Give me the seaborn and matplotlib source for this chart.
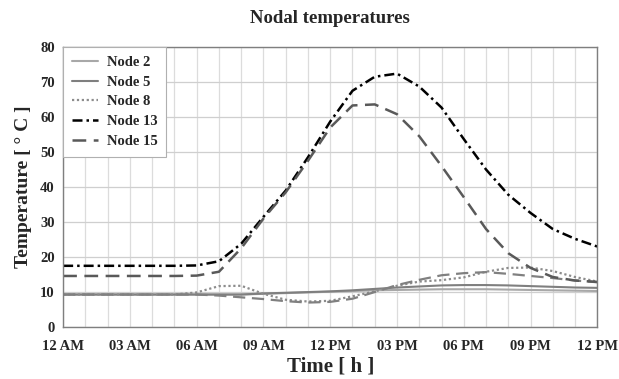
import numpy as np
import pandas as pd
import seaborn as sns
import matplotlib.pyplot as plt
from matplotlib.ticker import MultipleLocator

# hours of the day (0 = 12 AM, 24 = 12 AM next day)
hours = list(range(25))
tick_hours = [0, 3, 6, 9, 12, 15, 18, 21, 24]
tick_labels = ["12 AM", "03 AM", "06 AM", "09 AM", "12 PM", "03 PM", "06 PM", "09 PM", "12 PM"]

# temperatures [°C]
node_2 = [9.3, 9.3, 9.3, 9.3, 9.3, 9.3, 9.3, 9.3, 9.3, 9.5, 9.7, 9.9, 10.1,
          10.3, 10.5, 10.6, 10.7, 10.8, 10.8, 10.8, 10.7, 10.6, 10.5, 10.4, 10.3]
node_5 = [9.3, 9.3, 9.3, 9.3, 9.3, 9.3, 9.3, 9.3, 9.3, 9.6, 9.8, 10.0, 10.2,
          10.5, 10.9, 11.3, 11.6, 11.9, 12.0, 12.0, 11.9, 11.7, 11.5, 11.3, 11.2]
node_8 = [9.3, 9.3, 9.3, 9.3, 9.3, 9.3, 9.9, 11.7, 11.8, 9.5, 7.8, 7.3, 7.5,
          8.8, 10.2, 11.8, 13.0, 13.4, 14.2, 15.8, 16.9, 17.0, 16.0, 14.3, 13.0]
node_13 = [17.5, 17.5, 17.5, 17.5, 17.5, 17.5, 17.6, 18.8, 23.8, 31.5, 39.0, 48.5, 58.7,
           67.5, 71.5, 72.4, 68.7, 62.7, 53.7, 45.0, 37.8, 32.6, 28.0, 25.2, 23.0]
node_15 = [14.6, 14.6, 14.6, 14.6, 14.6, 14.6, 14.7, 15.8, 22.5, 31.0, 38.5, 47.5, 57.0,
           63.3, 63.6, 60.8, 54.5, 46.0, 37.1, 28.0, 21.1, 16.9, 14.3, 13.3, 12.9]
# extra dashed curve drawn in the chart but not listed in its legend
unlabeled_dashed = [9.3, 9.3, 9.3, 9.3, 9.3, 9.3, 9.3, 9.0, 8.5, 8.0, 7.4, 7.0, 7.2,
                    8.1, 10.0, 12.0, 13.5, 14.8, 15.4, 15.7, 15.2, 14.6, 14.0, 13.3, 12.8]

sns.set_theme(style="whitegrid")
plt.rcParams['font.family'] = ['Liberation Serif', 'DejaVu Serif']
plt.rcParams['font.weight'] = 'bold'

fig = plt.figure(figsize=(6.19, 3.79), dpi=100)
ax = fig.add_axes([0.102, 0.137, 0.863, 0.739])

sns.lineplot(x=hours, y=node_2, ax=ax, color='#a8a8a8', linewidth=1.5, label='Node 2', errorbar=None)
sns.lineplot(x=hours, y=node_5, ax=ax, color='#7f7f7f', linewidth=1.5, label='Node 5', errorbar=None)
sns.lineplot(x=hours, y=node_8, ax=ax, color='#8c8c8c', linewidth=1.6,
             linestyle=(0, (1, 1.2)), label='Node 8', errorbar=None)
sns.lineplot(x=hours, y=unlabeled_dashed, ax=ax, color='#808080', linewidth=1.6,
             linestyle=(0, (5.5, 3)), label='_nolegend_', errorbar=None)
sns.lineplot(x=hours, y=node_13, ax=ax, color='black', linewidth=1.8,
             linestyle=(0, (4, 1.6, 1, 1.6)), label='Node 13', errorbar=None)
sns.lineplot(x=hours, y=node_15, ax=ax, color='#595959', linewidth=1.8,
             linestyle=(0, (5.5, 3)), label='Node 15', errorbar=None)

ax.set_xlim(0, 24)
ax.set_ylim(0, 80)
ax.set_xticks(tick_hours)
ax.set_xticklabels(tick_labels)
ax.xaxis.set_minor_locator(MultipleLocator(1))
ax.yaxis.set_major_locator(MultipleLocator(10))

ax.grid(which='major', axis='y', color='#cfcfcf', linewidth=0.9)
ax.grid(which='minor', axis='x', color='#dcdcdc', linewidth=0.9)
ax.grid(which='major', axis='x', color='#dcdcdc', linewidth=0.9)
ax.tick_params(axis='both', which='both', length=0, labelsize=10.5)
ax.tick_params(axis='x', pad=9)
ax.tick_params(axis='y', pad=6)
for lab in ax.get_xticklabels() + ax.get_yticklabels():
    lab.set_fontweight('bold')

for side in ['left', 'bottom', 'top', 'right']:
    ax.spines[side].set_color('#7f7f7f')
    ax.spines[side].set_linewidth(1.0)

ax.set_title("Nodal temperatures", fontsize=13.5, fontweight='bold', pad=17)
ax.set_xlabel("Time [ h ]", fontsize=15, fontweight='bold', labelpad=3)
ax.set_ylabel("Temperature [ ° C ]", fontsize=14, fontweight='bold', labelpad=6)

leg = ax.legend(loc='upper left', borderaxespad=0, fontsize=10.5, frameon=True,
                fancybox=False, edgecolor='#b0b0b0', framealpha=1,
                handlelength=1.8, handletextpad=0.6, labelspacing=0.45, borderpad=0.6)
leg.get_frame().set_linewidth(0.8)
for t in leg.get_texts():
    t.set_fontweight('bold')

fig.savefig("out.png", dpi=100)
